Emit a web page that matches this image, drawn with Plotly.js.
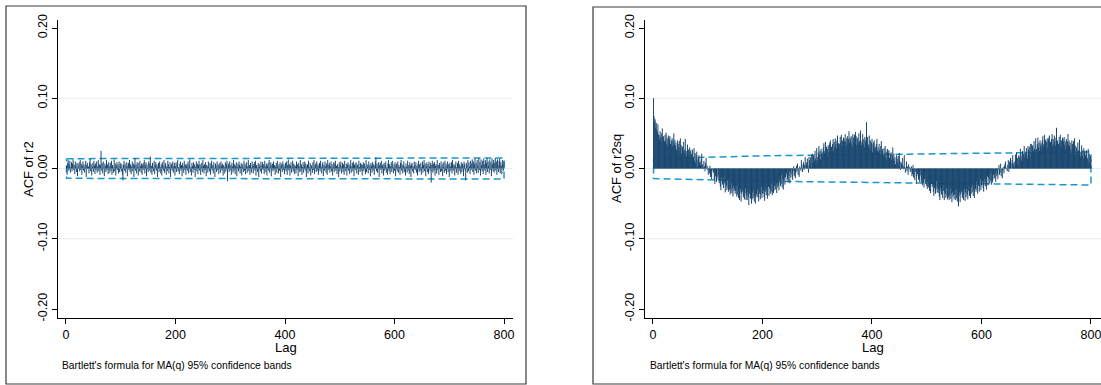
<!DOCTYPE html>
<html><head><meta charset="utf-8">
<script src="https://cdn.plot.ly/plotly-3.0.1.min.js"></script>
<style>html,body{margin:0;padding:0;background:#fff}#chart{width:1101px;height:385px}</style>
</head><body><div id="chart"></div>
<script>
// ACF of r2, lags 1..800
const acfR2 = [
.004,-.009,.008,.012,-.003,.006,.011,-.006,.002,.009,-.004,.007,.013,-.002,.005,-.008,.010,.003,-.005,.008,
-.011,.006,.001,.009,-.004,.012,-.002,.007,-.009,.004,.010,-.003,.006,-.006,.002,.011,-.012,.005,.008,-.001,
.003,-.007,.009,.014,-.004,.006,-.010,.002,.008,-.005,.011,.004,-.008,.007,-.002,.010,-.006,.003,.012,-.004,
.006,-.009,.005,.025,-.003,.008,-.007,.010,.001,-.011,.007,.004,-.005,.012,-.002,.006,-.008,.009,.003,-.006,
.008,-.003,.011,-.009,.005,.002,-.006,.013,-.004,.007,-.010,.004,.009,-.002,.006,-.007,.010,-.005,.003,.008,
-.004,.006,-.009,-.017,.005,.011,-.003,.007,-.006,.002,.009,-.011,.004,.008,-.002,.012,-.005,.006,-.008,.003,
.010,-.004,.007,-.012,.005,.015,-.003,.006,-.007,.009,.002,-.010,.008,-.004,.011,.003,-.006,.007,-.009,.005,
.008,-.002,.012,-.007,.004,.009,-.011,.006,.001,-.005,.010,-.003,.007,.017,-.006,.004,-.009,.008,.002,-.004,
.011,-.008,.005,.009,-.003,.006,-.012,.003,.008,-.005,.010,.002,-.007,.006,-.010,.009,.004,-.003,.012,-.006,
.005,.008,-.009,.003,-.004,.011,.006,-.007,.002,.009,-.012,.005,.007,-.003,.010,-.006,.004,.008,-.010,.003,
.009,-.005,.006,.012,-.004,.002,-.008,.007,.010,-.003,.005,-.011,.008,.003,-.006,.011,-.002,.006,-.009,.004,
.007,-.003,.010,-.007,.005,.013,-.005,.002,-.010,.008,.004,-.006,.009,-.002,.006,-.012,.003,.010,-.004,.007,
-.008,.005,.011,-.003,.006,-.009,.002,.008,-.005,.012,.004,-.007,.006,-.002,.009,-.011,.005,.003,-.006,.010,
.002,-.004,.008,-.009,.006,.011,-.003,.005,-.007,.009,.001,-.012,.007,.004,-.005,.010,-.002,.006,-.008,.003,
.008,-.006,.010,.004,-.003,.007,-.010,.005,.002,-.007,.009,-.004,.006,.011,-.018,.003,.007,-.005,.010,-.002,
.005,-.009,.008,.003,-.006,.012,-.003,.006,-.008,.004,.009,-.011,.002,.007,-.004,.010,.005,-.007,.003,.008,
-.010,.006,.002,-.005,.011,-.003,.007,-.008,.004,.009,-.006,.003,.012,-.004,.005,-.009,.008,.002,-.006,.010,
.004,-.007,.006,.009,-.003,.011,-.010,.005,.002,-.005,.008,-.012,.006,.003,-.004,.010,-.007,.005,.009,-.002,
.006,-.008,.011,.003,-.005,.007,-.010,.004,.008,-.003,.012,-.006,.002,.009,-.011,.005,.007,-.004,.010,-.002,
.005,-.009,.003,.008,-.006,.011,.002,-.007,.006,-.003,.009,-.012,.004,.007,-.005,.010,-.002,.006,-.008,.003,
.008,-.004,.010,-.009,.005,.013,-.003,.006,-.010,.004,.009,-.006,.002,.011,-.004,.007,-.008,.005,.003,-.007,
.010,-.002,.006,-.011,.008,.003,-.005,.012,-.004,.006,-.009,.002,.009,-.006,.005,.010,-.003,.007,-.012,.004,
.006,-.007,.011,.002,-.004,.008,-.010,.005,.003,-.006,.009,-.002,.012,-.008,.004,.007,-.005,.010,-.003,.006,
-.009,.004,.008,-.004,.011,.002,-.007,.006,.009,-.011,.005,-.003,.010,.003,-.006,.007,-.009,.012,-.002,.005,
.008,-.006,.003,.010,-.004,.006,-.010,.002,.009,-.005,.007,.011,-.003,.004,-.008,.006,.002,-.012,.009,-.004,
.005,.010,-.007,.003,.008,-.005,.006,-.009,.011,.002,-.004,.007,-.010,.005,.009,-.003,.006,-.008,.004,.012,
-.006,.003,.008,-.004,.010,-.011,.005,.007,-.002,.009,-.007,.004,.006,-.009,.011,.002,-.005,.008,-.003,.006,
-.010,.005,.009,-.004,.007,.002,-.008,.012,-.005,.006,.003,-.007,.010,-.002,.005,-.011,.008,.004,-.006,.009,
-.003,.006,-.009,.004,.010,.016,-.004,.007,-.006,.003,.009,-.012,.005,.008,-.002,.011,-.007,.004,.006,-.010,
.008,-.003,.005,.010,-.006,.002,-.009,.007,.012,-.004,.006,-.008,.003,.009,-.005,.011,.002,-.007,.006,-.003,
.009,-.011,.004,.007,-.004,.010,-.006,.005,.002,-.009,.008,.012,-.003,.006,-.007,.004,.010,-.005,.003,-.010,
.007,.002,-.006,.011,-.003,.005,-.008,.009,.004,-.012,.006,.008,-.004,.003,-.007,.010,.005,-.002,.009,-.006,
.004,-.010,.007,.011,-.005,.006,-.003,.008,-.009,.002,.010,-.006,.005,.012,-.004,.007,-.011,.003,.009,-.005,
.006,-.008,.010,.003,-.004,.008,-.020,.005,.011,-.006,.007,-.003,.009,-.010,.004,.006,-.007,.012,-.002,.005,
-.009,.008,.003,-.005,.010,-.004,.006,-.011,.009,.002,-.006,.011,-.003,.007,-.008,.004,.010,-.005,.006,-.012,
.008,.003,-.004,.009,-.007,.012,.005,-.003,.006,-.010,.004,.010,-.006,.002,.008,-.009,.011,-.004,.006,.003,
-.008,.009,-.005,.007,.004,-.011,.010,.006,-.003,-.017,.008,.005,-.006,.012,-.004,.009,.003,-.008,.011,-.002,
.007,.013,-.005,.010,-.009,.006,.014,-.003,.008,-.007,.012,.004,-.006,.015,-.002,.009,-.010,.013,.005,-.004,
.011,-.008,.014,.006,-.003,.012,-.009,.008,.015,-.005,.010,.004,-.007,.013,-.002,.009,-.011,.014,.006,-.004,
.012,-.006,.008,.015,-.003,.010,-.009,.013,.005,-.005,.011,.014,-.007,.009,.004,-.008,.012,.006,-.003,.010
];
// ACF of r2sq, lags 1..800
const acfR2sq = [
.100,.074,.066,.070,.058,.065,.055,.052,.063,.048,
.048,.041,.053,.045,.038,.050,.057,.043,.046,.040,
.038,.048,.040,.051,.035,.043,.032,.047,.045,.041,
.046,.035,.029,.040,.043,.032,.039,.050,.034,.041,
.032,.037,.027,.022,.040,.035,.030,.039,.025,.043,
.034,.021,.032,.030,.024,.038,.027,.022,.042,.025,
.018,.025,.034,.020,.027,.015,.030,.023,.026,.019,
.021,.027,.013,.016,.029,.011,.022,.008,.019,.024,
.002,.013,.016,.019,.008,.010,.005,.014,.021,.004,
.006,-.001,.011,.003,-.004,.008,.015,.001,.004,-.002,
-.009,.001,-.007,.004,-.012,-.004,-.015,.000,-.002,-.006,
-.005,-.016,-.022,-.011,-.008,-.019,-.012,-.001,-.017,-.010,
-.021,-.016,-.026,-.031,-.013,-.018,-.023,-.014,-.028,-.010,
-.021,-.034,-.023,-.025,-.031,-.017,-.028,-.033,-.013,-.030,
-.037,-.030,-.021,-.035,-.028,-.040,-.025,-.032,-.029,-.036,
-.032,-.026,-.040,-.037,-.024,-.042,-.031,-.045,-.034,-.029,
-.047,-.036,-.033,-.030,-.041,-.039,-.044,-.035,-.028,-.045,
-.038,-.045,-.033,-.041,-.052,-.036,-.029,-.043,-.040,-.050,
-.044,-.034,-.042,-.031,-.047,-.039,-.050,-.035,-.037,-.041,
-.030,-.041,-.047,-.036,-.033,-.044,-.037,-.026,-.042,-.035,
-.036,-.031,-.041,-.046,-.028,-.033,-.038,-.029,-.043,-.025,
-.026,-.039,-.028,-.030,-.036,-.022,-.033,-.038,-.018,-.035,
-.032,-.025,-.016,-.030,-.023,-.035,-.020,-.027,-.024,-.031,
-.017,-.011,-.025,-.022,-.009,-.027,-.016,-.030,-.019,-.014,
-.023,-.012,-.009,-.006,-.017,-.015,-.020,-.011,-.004,-.021,
-.006,-.013,-.001,-.009,-.016,-.004,.003,-.011,-.008,-.014,
-.006,.004,-.004,.007,-.009,-.001,-.012,.003,.001,-.003,
.012,.001,-.005,.006,.009,-.002,.005,.016,.000,.007,
.009,.014,.004,-.006,.017,.012,.007,.016,.002,.020,
.021,.008,.019,.017,.011,.025,.014,.009,.029,.012,
.016,.023,.032,.018,.025,.013,.028,.021,.024,.017,
.030,.036,.022,.025,.038,.020,.031,.017,.028,.033,
.023,.034,.037,.040,.029,.031,.026,.035,.042,.025,
.038,.031,.043,.035,.028,.040,.047,.033,.036,.030,
.035,.045,.037,.048,.032,.040,.029,.044,.042,.038,
.049,.038,.032,.043,.046,.035,.042,.053,.037,.044,
.041,.046,.036,.031,.049,.044,.039,.048,.034,.052,
.046,.033,.044,.042,.036,.050,.039,.034,.054,.037,
.033,.040,.049,.035,.042,.030,.045,.038,.041,.066,
.039,.045,.031,.034,.047,.029,.040,.026,.037,.042,
.023,.034,.037,.040,.029,.031,.026,.035,.042,.025,
.030,.023,.035,.027,.020,.032,.039,.025,.028,.022,
.019,.029,.021,.032,.016,.024,.013,.028,.026,.022,
.026,.015,.009,.020,.023,.012,.019,.030,.014,.021,
.011,.016,.006,.001,.019,.014,.009,.018,.004,.022,
.011,-.002,.009,.007,.001,.015,.004,-.001,.019,.002,
-.006,.001,.010,-.004,.003,-.009,.006,-.001,.002,-.005,
-.003,.003,-.011,-.008,.005,-.013,-.002,-.016,-.005,.000,
-.022,-.011,-.008,-.005,-.016,-.014,-.019,-.010,-.003,-.020,
-.017,-.024,-.012,-.020,-.027,-.015,-.008,-.022,-.019,-.025,
-.029,-.019,-.027,-.016,-.032,-.024,-.035,-.020,-.022,-.026,
-.022,-.033,-.039,-.028,-.025,-.036,-.029,-.018,-.034,-.027,
-.035,-.030,-.040,-.045,-.027,-.032,-.037,-.028,-.042,-.024,
-.032,-.045,-.034,-.036,-.042,-.028,-.039,-.044,-.024,-.041,
-.045,-.038,-.029,-.043,-.036,-.048,-.033,-.040,-.037,-.044,
-.037,-.031,-.045,-.042,-.029,-.047,-.036,-.054,-.039,-.034,
-.048,-.037,-.034,-.031,-.042,-.040,-.045,-.036,-.029,-.046,
-.034,-.041,-.029,-.037,-.044,-.032,-.025,-.039,-.036,-.042,
-.036,-.026,-.034,-.023,-.039,-.031,-.042,-.027,-.029,-.033,
-.019,-.030,-.036,-.025,-.022,-.033,-.026,-.015,-.031,-.024,
-.023,-.018,-.028,-.033,-.015,-.020,-.025,-.016,-.030,-.012,
-.011,-.024,-.013,-.015,-.021,-.007,-.018,-.023,-.003,-.020,
-.016,-.009,.000,-.014,-.007,-.019,-.004,-.011,-.008,-.015,
-.001,.005,-.009,-.006,.007,-.011,.000,-.014,-.003,.002,
-.007,.004,.007,.010,-.001,.001,-.004,.005,.012,-.005,
.010,.003,.015,.007,.000,.012,.019,.005,.008,.002,
.010,.020,.012,.023,.007,.015,.004,.019,.017,.013,
.028,.017,.011,.022,.025,.014,.021,.032,.016,.023,
.024,.029,.019,.014,.032,.027,.022,.031,.017,.035,
.035,.022,.033,.031,.025,.039,.028,.023,.043,.026,
.028,.035,.044,.030,.037,.025,.040,.033,.036,.029,
.040,.046,.032,.035,.048,.030,.041,.027,.038,.043,
.030,.041,.044,.047,.036,.038,.033,.042,.049,.032,
.042,.035,.047,.039,.032,.044,.058,.037,.040,.034,
.035,.045,.037,.048,.032,.040,.029,.044,.042,.038,
.045,.034,.028,.039,.042,.031,.038,.049,.033,.040,
.032,.037,.027,.022,.040,.035,.030,.039,.025,.043,
.033,.020,.031,.029,.023,.037,.026,.021,.041,.024,
.017,.024,.033,.019,.026,.014,.029,.022,.025,.018,
.020,.026,.012,.015,.028,.010,.021,.007,.018,.013
];
// Bartlett 95% band half-widths at sampled lags
const bandLags = [1,100,200,300,400,500,600,700,800];
const bandR2   = [.0140,.0141,.0142,.0143,.0144,.0146,.0147,.0149,.0150];
const bandR2sq = [.0142,.0165,.0180,.0190,.0200,.0210,.0220,.0228,.0235];

const yTickVals = [-0.2,-0.1,0,0.1,0.2];
const yTickText = ['-0.20','-0.10','0.00','0.10','0.20'];
const xTickVals = [0,200,400,600,800];
const xTickText = ['0','200','400','600','800'];
const gridVals = [-0.1,0,0.1];
const yTitles = ['ACF of r2','ACF of r2sq'];
const xTitle = 'Lag';
const note = "Bartlett's formula for MA(q) 95% confidence bands";

const W = 1101, H = 385;
const px = v => v / W;
const py = v => 1 - v / H;
const NAVY = '#1a476f', CI = '#1c97c9', FONT = 'Liberation Sans, Arial, sans-serif';

function spikes(vals) {
  const x = [], y = [];
  vals.forEach((v, i) => { x.push(i + 1, i + 1, null); y.push(0, v, null); });
  return { x, y };
}
function band(b) {
  const rl = bandLags.slice().reverse();
  const x = bandLags.concat(rl, [bandLags[0]]);
  const y = b.concat(b.slice().reverse().map(v => -v), [b[0]]);
  return { x, y };
}

const traces = [];
[[acfR2, bandR2, 'x', 'y'], [acfR2sq, bandR2sq, 'x2', 'y2']].forEach(([vals, b, xa, ya]) => {
  const bd = band(b);
  traces.push({ type: 'scatter', mode: 'lines', x: bd.x, y: bd.y, xaxis: xa, yaxis: ya,
    line: { color: CI, width: 1.5, dash: '7px,4px' }, hoverinfo: 'skip' });
  const s = spikes(vals);
  traces.push({ type: 'scatter', mode: 'lines', x: s.x, y: s.y, xaxis: xa, yaxis: ya,
    connectgaps: false, line: { color: NAVY, width: 1 }, hoverinfo: 'skip' });
});

const yRange = [-0.2128, 0.2114];
function xax(domain, range, anchor) {
  return { domain, range, anchor, showgrid: false, zeroline: false, showline: true,
    linecolor: '#000', linewidth: 1, ticks: 'outside', ticklen: 5, tickcolor: '#000',
    ticklabeloverflow: 'allow',
    tickvals: xTickVals, ticktext: xTickText, tickfont: { family: FONT, size: 12.5, color: '#000' } };
}
function yax(range, anchor) {
  return { domain: [py(318), py(20)], range, anchor, showgrid: false, zeroline: false, showline: true,
    linecolor: '#000', linewidth: 1, ticks: 'outside', ticklen: 5, tickcolor: '#000',
    tickvals: yTickVals, ticktext: yTickText, tickangle: -90,
    tickfont: { family: FONT, size: 12.5, color: '#000' } };
}

const shapes = [];
[['x', 'y'], ['x2', 'y2']].forEach(([xa, ya]) => {
  gridVals.forEach(g => shapes.push({ type: 'line', xref: xa + ' domain', yref: ya, x0: 0, x1: 1, y0: g, y1: g,
    line: { color: '#e6eef0', width: 1 }, layer: 'below' }));
});
shapes.push({ type: 'rect', xref: 'paper', yref: 'paper', x0: px(6), x1: px(526), y0: py(384), y1: py(6),
  line: { color: '#3a3a3a', width: 1.2 } });
shapes.push({ type: 'rect', xref: 'paper', yref: 'paper', x0: px(593), x1: px(1106), y0: py(384), y1: py(7),
  line: { color: '#3a3a3a', width: 1.2 } });

const annotations = [];
[[28, 169, 0], [616, 169, 1]].forEach(([x, y, i]) => annotations.push({ xref: 'paper', yref: 'paper',
  x: px(x), y: py(y), text: yTitles[i], textangle: -90, showarrow: false,
  font: { family: FONT, size: 13, color: '#000' }, xanchor: 'center', yanchor: 'middle' }));
[[285.5, 347.5], [873, 347.5]].forEach(([x, y]) => annotations.push({ xref: 'paper', yref: 'paper',
  x: px(x), y: py(y), text: xTitle, showarrow: false,
  font: { family: FONT, size: 13, color: '#000' }, xanchor: 'center', yanchor: 'middle' }));
[[60, 365], [648, 365]].forEach(([x, y]) => annotations.push({ xref: 'paper', yref: 'paper',
  x: px(x), y: py(y), text: note, showarrow: false,
  font: { family: FONT, size: 10.3, color: '#000' }, xanchor: 'left', yanchor: 'middle' }));

const layout = {
  width: W, height: H, margin: { l: 0, r: 0, t: 0, b: 0 }, showlegend: false,
  paper_bgcolor: '#fff', plot_bgcolor: '#fff',
  xaxis: xax([px(58), px(513)], [-14.6, 816.4], 'y'),
  yaxis: yax(yRange, 'x'),
  xaxis2: xax([px(645), 1], [-14.6, 818.3], 'y2'),
  yaxis2: yax(yRange, 'x2'),
  shapes, annotations
};
Plotly.newPlot('chart', traces, layout, { staticPlot: true, displayModeBar: false });
</script></body></html>
